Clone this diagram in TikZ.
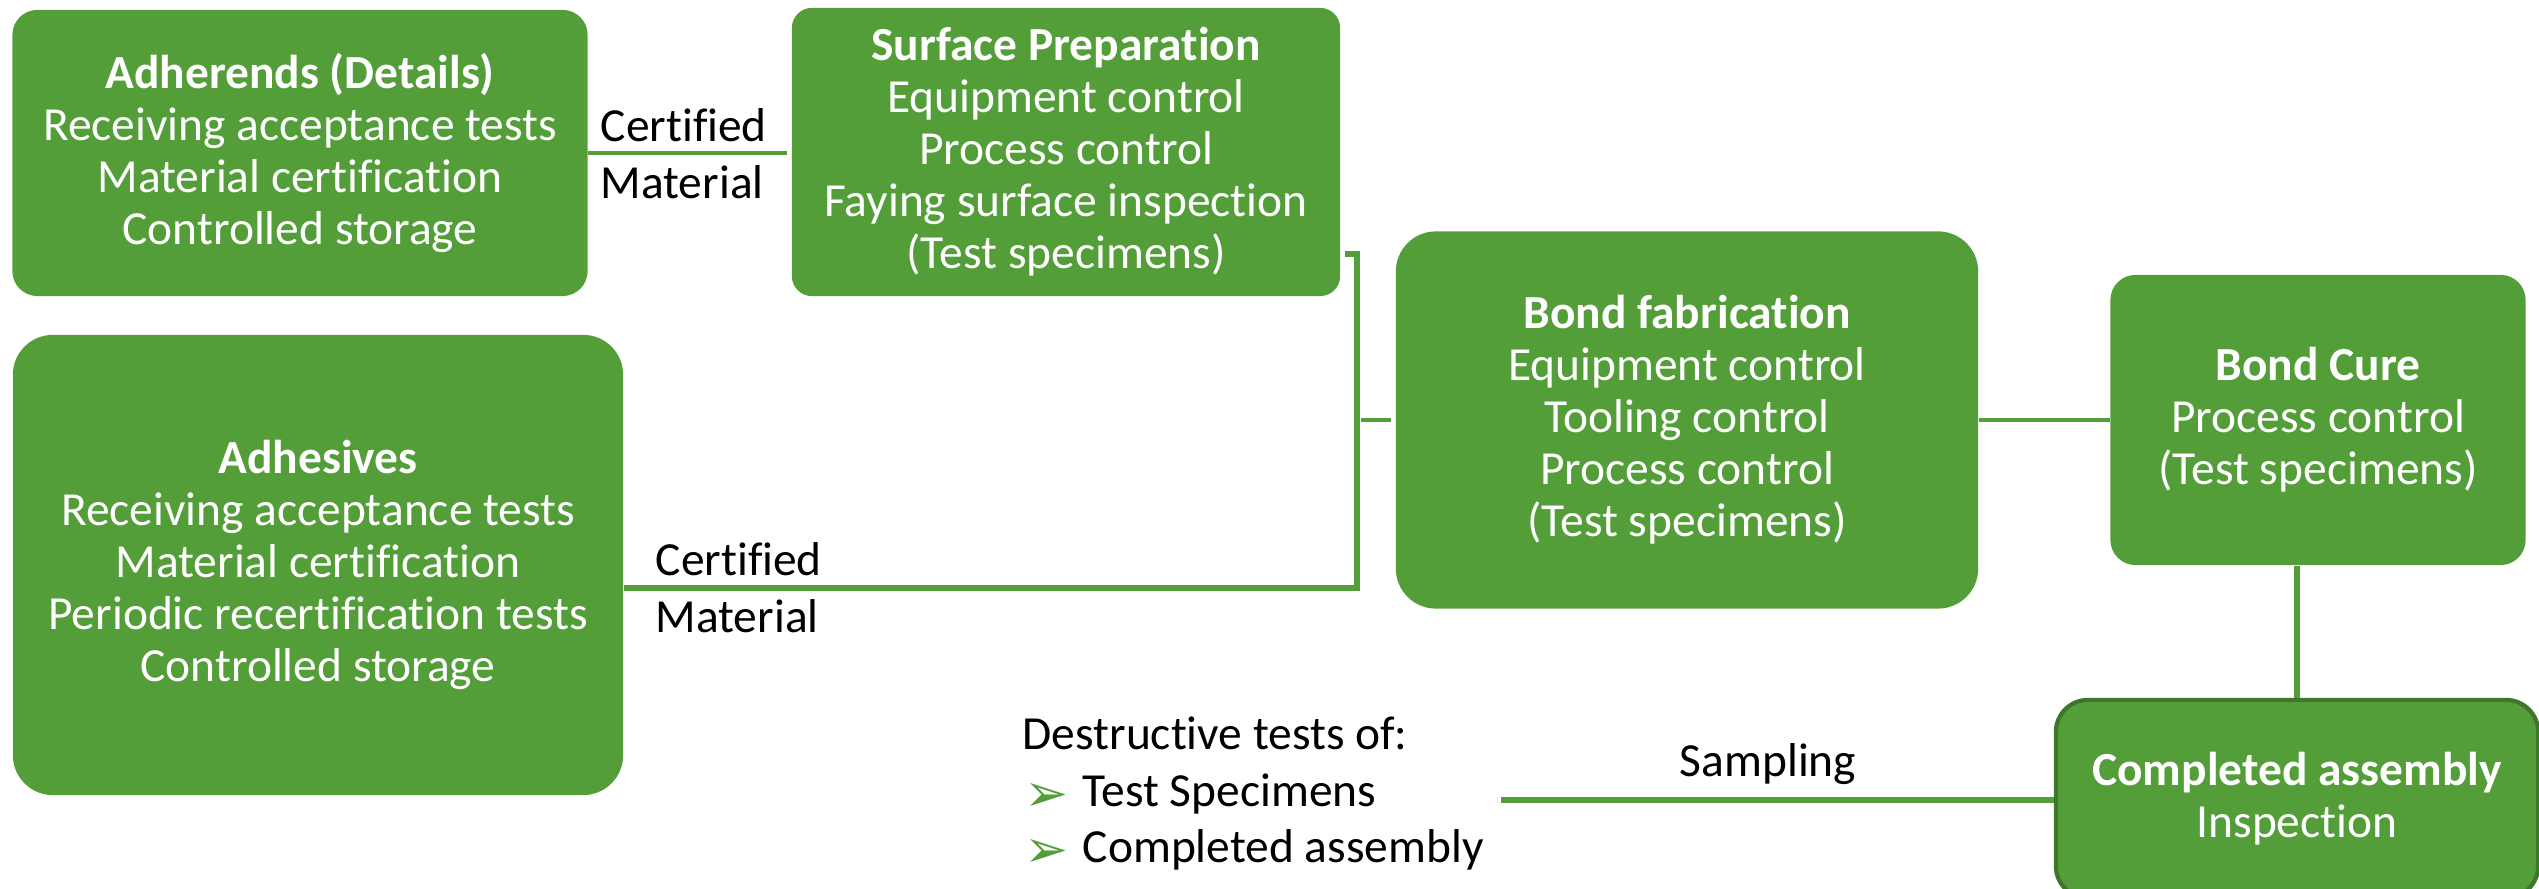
\documentclass[tikz,border=0pt]{standalone}
\usepackage{fontspec}
\setmainfont{Carlito}[Ligatures=NoCommon]
\newfontfamily\symfont{DejaVu Sans}
\usepackage{tikz}
\usetikzlibrary{positioning}
\usetikzlibrary{calc}

\definecolor{bondgreen}{RGB}{84,158,58}
\definecolor{bonddark}{RGB}{62,118,42}

\newcommand{\bodyfont}{\fontsize{13.5}{14.8}\selectfont}
\newcommand{\arrowbul}{\makebox[0.58cm][l]{\raisebox{-0.05cm}{\color{bondgreen}\fontsize{15}{15}\symfont ➢}}}

\tikzset{
  stage/.style={rectangle, fill=bondgreen, text=white, align=center, inner sep=0pt, font=\bodyfont},
  link/.style={draw=bondgreen, line width=1.6pt},
  thinlink/.style={draw=bondgreen, line width=0.9pt},
  lbl/.style={inner sep=0pt, font=\bodyfont, text=black},
}

\begin{document}
\begin{tikzpicture}[x=0.01cm, y=-0.01cm]
\clip (0,0) rectangle (2539,889);

% material inputs
\node[stage, minimum width=5.75cm, minimum height=2.86cm, rounded corners=0.25cm] (adher) at (300,153)
  {\textbf{Adherends (Details)}\\Receiving acceptance tests\\Material certification\\Controlled storage};
\node[stage, minimum width=6.10cm, minimum height=4.60cm, rounded corners=0.4cm] (adhes) at (318,565)
  {\textbf{Adhesives}\\Receiving acceptance tests\\Material certification\\Periodic recertification tests\\Controlled storage};

% process steps
\node[stage, minimum width=5.48cm, minimum height=2.88cm, rounded corners=0.2cm] (surf) at (1066,152)
  {\textbf{Surface Preparation}\\Equipment control\\Process control\\Faying surface inspection\\(Test specimens)};
\node[stage, minimum width=5.82cm, minimum height=3.77cm, rounded corners=0.4cm] (fab) at (1687,420)
  {\textbf{Bond fabrication}\\Equipment control\\Tooling control\\Process control\\(Test specimens)};
\node[stage, minimum width=4.15cm, minimum height=2.90cm, rounded corners=0.25cm] (cure) at (2318,420)
  {\textbf{Bond Cure}\\Process control\\(Test specimens)};
\node[stage, draw=bonddark, line width=1.2pt, minimum width=4.82cm, minimum height=1.98cm, rounded corners=0.32cm] (comp) at (2297,799)
  {\textbf{Completed assembly}\\Inspection};

% certified material links
\draw[thinlink] (adher.east) -- ([xshift=-0.04cm]surf.west |- adher.east);
\node[lbl, anchor=base west] (cert1) at (600,142) {Certified};
\node[lbl, anchor=base west] (mat1) at (600,199) {Material};

\coordinate (brtop) at (1357,254);
\coordinate (brbot) at (1357,588);
\draw[link] ([xshift=0.04cm]surf.east |- brtop) -- (brtop) -- (brbot) -- (adhes.east |- brbot);
\draw[thinlink] ([xshift=0.04cm]brtop |- fab.west) -- ([xshift=-0.04cm]fab.west);
\node[lbl, anchor=base west] (cert2) at (655,576) {Certified};
\node[lbl, anchor=base west] (mat2) at (655,633) {Material};

\draw[thinlink] (fab.east) -- (cure.west);
\draw[link] (comp.north) -- (comp.north |- cure.south);

% destructive tests
\node[lbl, anchor=base west] (dtest) at (1022,750) {Destructive tests of:};
\node[lbl, anchor=base west] (dspec) at (1024,807) {\arrowbul Test Specimens};
\node[lbl, anchor=base west] (dasm) at (1024,863) {\arrowbul Completed assembly};

\coordinate (samp) at (1501,800);
\draw[link] (samp) -- (comp.west |- samp);
\node[lbl, anchor=base] (sampl) at (1768,777) {Sampling};
\end{tikzpicture}
\end{document}
